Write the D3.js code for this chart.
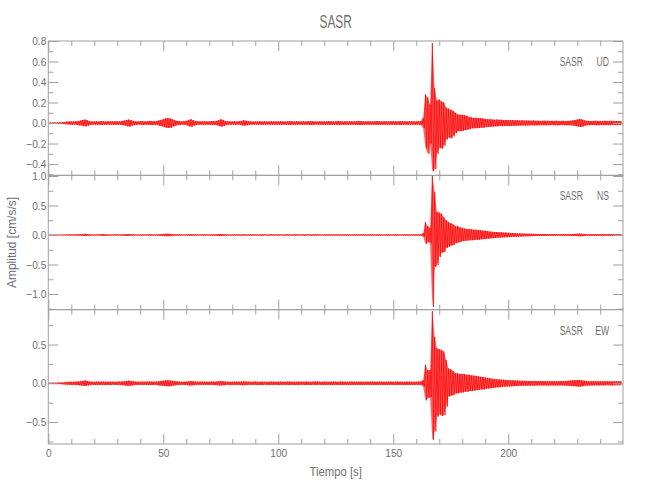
<!DOCTYPE html>
<html><head><meta charset="utf-8">
<script src="https://cdn.jsdelivr.net/npm/d3@7"></script>
<style>body{margin:0;background:#fff}</style>
</head><body><svg id="c" width="650" height="500"></svg>
<script>
// ---------- DATA ----------
const titleText = "SASR";
const station = "SASR";
const components = ["UD", "NS", "EW"];
const xLabel = "Tiempo [s]";
const yLabel = "Amplitud [cm/s/s]";
const timeStart = 0, timeStep = 1;      // seconds, one min/max bin per second
const timeEnd = 249.9;

// per-second maximum / minimum of each trace (cm/s/s)
const udHi = [
.006,.006,.007,.006,.006,.007,.008,.010,.014,.016,
.015,.016,.018,.020,.024,.030,.034,.026,.018,.016,
.015,.017,.016,.020,.018,.015,.017,.018,.016,.017,
.018,.016,.020,.024,.030,.034,.028,.021,.017,.016,
.017,.019,.016,.018,.021,.019,.017,.020,.024,.030,
.038,.046,.050,.045,.036,.026,.021,.019,.018,.017,
.022,.030,.038,.027,.019,.017,.016,.018,.017,.016,
.017,.019,.018,.021,.028,.036,.031,.021,.017,.016,
.016,.017,.015,.018,.021,.027,.023,.017,.016,.015,
.016,.015,.017,.016,.018,.016,.015,.017,.016,.015,
.016,.018,.017,.015,.016,.019,.017,.016,.018,.016,
.015,.017,.016,.018,.020,.017,.016,.015,.017,.016,
.017,.016,.019,.018,.016,.017,.020,.018,.016,.017,
.016,.018,.017,.016,.019,.021,.018,.017,.016,.018,
.017,.016,.018,.020,.017,.016,.018,.017,.016,.017,
.018,.017,.016,.019,.018,.017,.016,.018,.017,.016,
.017,.018,.020,.050,.280,.250,.180,.780,.340,.220,
.230,.210,.200,.150,.140,.130,.120,.100,.085,.080,
.080,.075,.070,.060,.055,.050,.052,.050,.048,.045,
.040,.036,.038,.035,.032,.034,.031,.032,.030,.029,
.030,.028,.029,.026,.027,.025,.026,.025,.024,.024,
.023,.024,.022,.023,.021,.022,.023,.022,.021,.022,
.021,.022,.020,.021,.022,.020,.021,.023,.025,.029,
.034,.040,.036,.027,.022,.021,.020,.021,.022,.021,
.020,.021,.022,.020,.021,.022,.021,.020,.021,.020];
const udLo = [
-.006,-.007,-.006,-.006,-.007,-.006,-.008,-.011,-.013,-.015,
-.016,-.015,-.017,-.021,-.023,-.029,-.033,-.027,-.019,-.015,
-.016,-.016,-.017,-.019,-.017,-.016,-.016,-.017,-.017,-.016,
-.017,-.017,-.019,-.023,-.029,-.035,-.027,-.020,-.018,-.015,
-.016,-.018,-.017,-.017,-.020,-.020,-.016,-.019,-.025,-.031,
-.037,-.045,-.049,-.046,-.035,-.027,-.020,-.020,-.017,-.016,
-.021,-.031,-.037,-.026,-.020,-.016,-.017,-.017,-.016,-.017,
-.016,-.018,-.019,-.020,-.029,-.035,-.030,-.022,-.016,-.017,
-.015,-.016,-.016,-.017,-.022,-.026,-.022,-.018,-.015,-.016,
-.015,-.016,-.016,-.017,-.017,-.015,-.016,-.016,-.017,-.016,
-.017,-.017,-.016,-.016,-.017,-.018,-.016,-.017,-.017,-.015,
-.016,-.016,-.017,-.017,-.019,-.018,-.015,-.016,-.016,-.017,
-.016,-.017,-.018,-.017,-.017,-.016,-.019,-.017,-.017,-.016,
-.017,-.017,-.016,-.017,-.018,-.020,-.019,-.016,-.017,-.017,
-.016,-.017,-.017,-.019,-.018,-.017,-.017,-.016,-.017,-.016,
-.017,-.018,-.017,-.018,-.017,-.016,-.017,-.017,-.016,-.017,
-.016,-.017,-.019,-.050,-.240,-.300,-.200,-.470,-.450,-.300,
-.240,-.250,-.220,-.160,-.140,-.150,-.130,-.100,-.080,-.080,
-.075,-.070,-.065,-.060,-.052,-.050,-.050,-.048,-.046,-.045,
-.040,-.038,-.036,-.035,-.032,-.033,-.030,-.030,-.029,-.028,
-.028,-.028,-.027,-.026,-.026,-.025,-.024,-.024,-.023,-.023,
-.022,-.022,-.023,-.021,-.022,-.021,-.022,-.021,-.021,-.020,
-.021,-.022,-.021,-.020,-.021,-.021,-.022,-.022,-.025,-.029,
-.033,-.039,-.035,-.027,-.021,-.021,-.020,-.020,-.021,-.021,
-.020,-.020,-.021,-.020,-.021,-.020,-.020,-.021,-.020,-.020];

const nsHi = [
.004,.004,.005,.004,.005,.005,.006,.008,.010,.011,
.010,.011,.012,.011,.013,.016,.020,.015,.012,.011,
.010,.011,.012,.014,.018,.014,.011,.010,.011,.012,
.011,.010,.012,.013,.015,.017,.014,.012,.011,.010,
.011,.012,.010,.011,.013,.012,.011,.012,.013,.015,
.018,.020,.022,.019,.015,.012,.011,.012,.011,.010,
.011,.013,.015,.012,.011,.010,.011,.012,.011,.010,
.011,.012,.011,.013,.015,.018,.015,.012,.011,.010,
.010,.011,.012,.011,.010,.012,.011,.010,.011,.012,
.011,.010,.011,.012,.011,.010,.011,.012,.010,.011,
.012,.011,.010,.011,.012,.011,.010,.011,.012,.011,
.010,.011,.012,.011,.010,.011,.013,.012,.011,.010,
.011,.012,.011,.010,.011,.012,.011,.010,.011,.012,
.011,.010,.012,.011,.010,.011,.012,.011,.010,.011,
.012,.011,.010,.011,.012,.011,.010,.012,.011,.010,
.011,.012,.011,.010,.011,.012,.011,.010,.011,.012,
.011,.012,.013,.030,.220,.150,.120,1.000,.730,.390,
.380,.360,.300,.250,.220,.200,.180,.150,.150,.130,
.120,.110,.100,.100,.095,.090,.090,.085,.080,.075,
.070,.065,.060,.055,.050,.050,.045,.045,.040,.040,
.038,.035,.033,.030,.028,.026,.025,.024,.022,.021,
.020,.019,.018,.018,.017,.017,.016,.016,.015,.015,
.015,.014,.015,.014,.015,.014,.015,.016,.017,.019,
.022,.024,.021,.018,.015,.014,.015,.014,.015,.014,
.015,.014,.015,.014,.015,.014,.015,.014,.015,.014];
const nsLo = [
-.004,-.005,-.004,-.005,-.004,-.005,-.006,-.009,-.010,-.011,
-.011,-.010,-.011,-.012,-.014,-.017,-.019,-.014,-.012,-.010,
-.011,-.010,-.011,-.015,-.017,-.013,-.011,-.011,-.010,-.011,
-.010,-.011,-.011,-.014,-.016,-.016,-.013,-.011,-.010,-.011,
-.010,-.011,-.011,-.010,-.012,-.013,-.010,-.011,-.014,-.016,
-.019,-.021,-.021,-.018,-.014,-.011,-.012,-.011,-.010,-.011,
-.010,-.014,-.014,-.011,-.010,-.011,-.010,-.011,-.012,-.011,
-.010,-.011,-.012,-.014,-.016,-.017,-.014,-.011,-.010,-.011,
-.011,-.010,-.011,-.012,-.011,-.011,-.010,-.011,-.012,-.011,
-.010,-.011,-.012,-.011,-.010,-.011,-.012,-.011,-.011,-.010,
-.011,-.010,-.011,-.012,-.011,-.010,-.011,-.012,-.011,-.010,
-.011,-.012,-.011,-.010,-.011,-.012,-.012,-.011,-.010,-.011,
-.010,-.011,-.012,-.011,-.010,-.011,-.012,-.011,-.010,-.011,
-.012,-.011,-.010,-.011,-.012,-.011,-.010,-.011,-.012,-.011,
-.011,-.010,-.011,-.012,-.011,-.010,-.011,-.011,-.012,-.011,
-.010,-.011,-.012,-.011,-.010,-.011,-.012,-.011,-.010,-.011,
-.012,-.011,-.013,-.030,-.150,-.120,-.140,-1.220,-.540,-.510,
-.370,-.300,-.290,-.220,-.200,-.180,-.170,-.140,-.130,-.120,
-.100,-.100,-.095,-.090,-.090,-.085,-.080,-.080,-.075,-.070,
-.068,-.062,-.058,-.055,-.050,-.048,-.045,-.042,-.040,-.038,
-.036,-.034,-.032,-.030,-.028,-.026,-.025,-.023,-.022,-.021,
-.020,-.019,-.018,-.017,-.017,-.016,-.016,-.015,-.015,-.015,
-.014,-.015,-.014,-.015,-.014,-.015,-.014,-.016,-.017,-.018,
-.021,-.023,-.020,-.017,-.015,-.015,-.014,-.015,-.014,-.015,
-.014,-.015,-.014,-.015,-.014,-.015,-.014,-.015,-.014,-.015];

const ewHi = [
.008,.008,.009,.008,.009,.010,.012,.015,.018,.020,
.020,.021,.022,.024,.027,.032,.036,.030,.024,.021,
.020,.022,.021,.023,.022,.020,.021,.022,.021,.020,
.021,.022,.023,.026,.030,.035,.030,.025,.022,.021,
.020,.022,.021,.023,.024,.022,.021,.023,.026,.030,
.034,.038,.040,.037,.032,.027,.023,.022,.021,.020,
.022,.026,.030,.025,.022,.021,.020,.022,.021,.020,
.021,.022,.021,.023,.026,.030,.027,.023,.021,.020,
.020,.021,.022,.021,.023,.025,.023,.021,.020,.021,
.022,.021,.020,.022,.021,.020,.021,.022,.021,.020,
.021,.022,.021,.020,.022,.023,.021,.020,.021,.022,
.021,.020,.022,.021,.020,.021,.023,.022,.021,.020,
.022,.021,.020,.021,.022,.021,.020,.022,.023,.021,
.020,.021,.022,.021,.020,.022,.021,.020,.021,.022,
.021,.022,.021,.020,.021,.022,.021,.020,.022,.021,
.020,.021,.022,.021,.020,.021,.022,.021,.020,.021,
.021,.022,.023,.040,.240,.170,.170,.930,.600,.450,
.440,.430,.410,.300,.190,.180,.160,.130,.130,.120,
.120,.120,.110,.110,.100,.100,.095,.090,.085,.080,
.075,.070,.065,.060,.055,.052,.050,.048,.045,.043,
.042,.040,.038,.036,.035,.034,.033,.032,.031,.030,
.030,.029,.030,.028,.029,.030,.028,.027,.028,.027,
.028,.027,.028,.029,.028,.030,.032,.035,.038,.040,
.042,.044,.040,.034,.030,.028,.027,.028,.027,.026,
.027,.026,.027,.026,.025,.026,.027,.026,.025,.026];
const ewLo = [
-.008,-.009,-.008,-.009,-.009,-.011,-.013,-.016,-.019,-.020,
-.021,-.020,-.022,-.025,-.028,-.031,-.035,-.029,-.023,-.020,
-.021,-.021,-.022,-.022,-.021,-.021,-.022,-.021,-.020,-.021,
-.022,-.021,-.024,-.027,-.031,-.034,-.029,-.024,-.021,-.020,
-.021,-.021,-.022,-.022,-.023,-.023,-.020,-.022,-.027,-.031,
-.035,-.037,-.039,-.036,-.031,-.026,-.022,-.021,-.020,-.021,
-.021,-.027,-.029,-.024,-.021,-.020,-.021,-.021,-.020,-.021,
-.020,-.021,-.022,-.024,-.027,-.029,-.026,-.022,-.020,-.021,
-.021,-.020,-.021,-.022,-.024,-.024,-.022,-.020,-.021,-.020,
-.021,-.022,-.021,-.021,-.020,-.021,-.022,-.021,-.020,-.021,
-.022,-.021,-.020,-.021,-.023,-.022,-.020,-.021,-.022,-.021,
-.020,-.021,-.021,-.022,-.021,-.020,-.022,-.021,-.020,-.021,
-.021,-.020,-.021,-.022,-.021,-.020,-.021,-.023,-.022,-.020,
-.021,-.022,-.021,-.020,-.021,-.021,-.022,-.021,-.020,-.021,
-.020,-.021,-.022,-.021,-.020,-.021,-.022,-.021,-.021,-.020,
-.021,-.022,-.021,-.020,-.021,-.022,-.021,-.020,-.021,-.022,
-.020,-.021,-.022,-.040,-.220,-.190,-.180,-.730,-.620,-.430,
-.400,-.420,-.410,-.300,-.170,-.160,-.150,-.130,-.130,-.120,
-.120,-.110,-.110,-.100,-.100,-.095,-.090,-.085,-.080,-.080,
-.072,-.068,-.064,-.060,-.056,-.052,-.050,-.047,-.044,-.042,
-.041,-.039,-.037,-.036,-.034,-.033,-.032,-.031,-.030,-.030,
-.029,-.030,-.028,-.029,-.028,-.027,-.029,-.028,-.027,-.028,
-.027,-.028,-.027,-.028,-.029,-.029,-.031,-.034,-.037,-.039,
-.041,-.043,-.039,-.033,-.029,-.028,-.028,-.027,-.026,-.027,
-.026,-.027,-.026,-.025,-.026,-.027,-.026,-.025,-.026,-.025];

// axis ranges and ticks
const yRanges = [[-0.51, 0.8], [-1.266, 1.011], [-0.783, 0.95]];
const yMajorTicks = [[-0.4, -0.2, 0, 0.2, 0.4, 0.6, 0.8], [-1, -0.5, 0, 0.5, 1], [-0.5, 0, 0.5]];
const yMinorTicks = [[-0.5, -0.3, -0.1, 0.1, 0.3, 0.5, 0.7], [-1.25, -0.75, -0.25, 0.25, 0.75], [-0.75, -0.25, 0.25, 0.75]];
const yTickLabels = [["\u22120.4", "\u22120.2", "0.0", "0.2", "0.4", "0.6", "0.8"],
                     ["\u22121.0", "\u22120.5", "0.0", "0.5", "1.0"],
                     ["\u22120.5", "0.0", "0.5"]];
const xMajorTicks = [0, 50, 100, 150, 200];
const xMinorTicks = [10, 20, 30, 40, 60, 70, 80, 90, 110, 120, 130, 140, 160, 170, 180, 190, 210, 220, 230, 240];

const traces = [[udHi, udLo], [nsHi, nsLo], [ewHi, ewLo]];

// ---------- DRAW ----------
(function () {
const FONT = "'Liberation Sans',Arial,sans-serif";
const TXT = "#707070", AX = "#a0a0a0";
const svg = d3.select("#c");
const pLeft = 48.3, pRight = 623, pTop = 41, pBottom = 444;
const ph = (pBottom - pTop) / 3;

function squeeze(sel, f) {
  sel.each(function () {
    const L = this.getComputedTextLength();
    this.setAttribute("textLength", (L * f).toFixed(2));
    this.setAttribute("lengthAdjust", "spacingAndGlyphs");
  });
  return sel;
}

const x = d3.scaleLinear().domain([timeStart, timeEnd]).range([pLeft, pRight]);

squeeze(svg.append("text").attr("x", (pLeft + pRight) / 2).attr("y", 28)
  .attr("text-anchor", "middle").attr("font-family", FONT).attr("font-size", 18)
  .attr("fill", TXT).text(titleText), 0.66);

function styleAxis(g) {
  g.select(".domain").remove();
  g.selectAll("line").attr("stroke", AX).attr("stroke-width", 1);
  const t = g.selectAll("text").attr("fill", TXT).attr("font-family", FONT).attr("font-size", 11.5);
  if (!t.empty()) squeeze(t, 0.88);
}

traces.forEach((tr, i) => {
  const y0 = pTop + i * ph, y1 = pTop + (i + 1) * ph;
  const y = d3.scaleLinear().domain(yRanges[i]).range([y1, y0]);
  const g = svg.append("g");

  // trace: per-second max/min envelope + zig-zag through max and min
  const hi = tr[0], lo = tr[1];
  const area = d3.area()
    .x((d, k) => x(timeStart + k * timeStep))
    .y0((d, k) => y(lo[k]))
    .y1(d => y(d));
  g.append("path").attr("d", area(hi)).attr("fill", "#ff0000").attr("fill-opacity", 0.6);
  const pts = [];
  hi.forEach((v, k) => {
    const t = timeStart + k * timeStep;
    pts.push([x(t), y(v)]);
    pts.push([x(t + timeStep / 2), y(lo[k])]);
  });
  g.append("path").attr("d", d3.line()(pts)).attr("fill", "none")
    .attr("stroke", "#ff0000").attr("stroke-width", 0.7);

  g.append("g").attr("transform", `translate(${pLeft},0)`)
    .call(d3.axisLeft(y).tickValues(yMajorTicks[i]).tickSizeInner(-10).tickSizeOuter(0).tickPadding(2)
      .tickFormat((d, k) => yTickLabels[i][k])).call(styleAxis);
  g.append("g").attr("transform", `translate(${pLeft},0)`)
    .call(d3.axisLeft(y).tickValues(yMinorTicks[i]).tickSizeInner(-5).tickSizeOuter(0).tickFormat("")).call(styleAxis);
  g.append("g").attr("transform", `translate(${pRight},0)`)
    .call(d3.axisRight(y).tickValues(yMajorTicks[i]).tickSizeInner(-10).tickSizeOuter(0).tickFormat("")).call(styleAxis);
  g.append("g").attr("transform", `translate(${pRight},0)`)
    .call(d3.axisRight(y).tickValues(yMinorTicks[i]).tickSizeInner(-5).tickSizeOuter(0).tickFormat("")).call(styleAxis);
  g.append("g").attr("transform", `translate(0,${y0})`)
    .call(d3.axisTop(x).tickValues(xMajorTicks).tickSizeInner(-10).tickSizeOuter(0).tickFormat("")).call(styleAxis);
  g.append("g").attr("transform", `translate(0,${y0})`)
    .call(d3.axisTop(x).tickValues(xMinorTicks).tickSizeInner(-5).tickSizeOuter(0).tickFormat("")).call(styleAxis);
  const bx = g.append("g").attr("transform", `translate(0,${y1})`);
  if (i === 2) {
    bx.call(d3.axisBottom(x).tickValues(xMajorTicks).tickSizeInner(-10).tickSizeOuter(0).tickPadding(5)
      .tickFormat(d3.format("d"))).call(styleAxis);
  } else {
    bx.call(d3.axisBottom(x).tickValues(xMajorTicks).tickSizeInner(-10).tickSizeOuter(0).tickFormat("")).call(styleAxis);
  }
  g.append("g").attr("transform", `translate(0,${y1})`)
    .call(d3.axisBottom(x).tickValues(xMinorTicks).tickSizeInner(-5).tickSizeOuter(0).tickFormat("")).call(styleAxis);

  g.append("rect").attr("x", pLeft).attr("y", y0).attr("width", pRight - pLeft).attr("height", y1 - y0)
    .attr("fill", "none").attr("stroke", AX).attr("stroke-width", 1);

  squeeze(g.append("text").attr("x", 583).attr("y", y0 + 25).attr("text-anchor", "end")
    .attr("font-family", FONT).attr("font-size", 13).attr("fill", TXT).text(station), 0.66);
  squeeze(g.append("text").attr("x", 609).attr("y", y0 + 25).attr("text-anchor", "end")
    .attr("font-family", FONT).attr("font-size", 13).attr("fill", TXT).text(components[i]), 0.66);
});

squeeze(svg.append("text").attr("x", (pLeft + pRight) / 2).attr("y", 476).attr("text-anchor", "middle")
  .attr("font-family", FONT).attr("font-size", 13).attr("fill", TXT).text(xLabel), 0.87);
squeeze(svg.append("text").attr("transform", `translate(16,${(pTop + pBottom) / 2}) rotate(-90)`)
  .attr("text-anchor", "middle").attr("font-family", FONT).attr("font-size", 13)
  .attr("fill", TXT).text(yLabel), 0.92);
})();
</script></body></html>
